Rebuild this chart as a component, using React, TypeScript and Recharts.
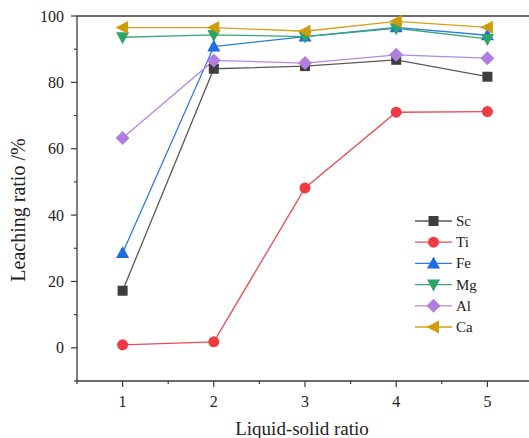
import { Line, LineChart, ReferenceLine, XAxis, YAxis } from 'recharts';

const ratios = [1, 2, 3, 4, 5];
const sc = [17.2, 84.1, 84.9, 86.8, 81.7];
const ti = [0.9, 1.8, 48.2, 71.0, 71.2];
const fe = [28.6, 90.8, 93.8, 96.6, 94.2];
const mg = [93.6, 94.3, 93.8, 96.3, 93.1];
const al = [63.2, 86.6, 85.8, 88.3, 87.3];
const ca = [96.5, 96.5, 95.4, 98.4, 96.6];

const xTicks = [0.5, 1, 1.5, 2, 2.5, 3, 3.5, 4, 4.5, 5];
const yTicks = [-10, 0, 10, 20, 30, 40, 50, 60, 70, 80, 90, 100];

const FONT = '"Liberation Serif", "DejaVu Serif", serif';
const AXIS = '#3a3a3a';

type Shape = 'square' | 'circle' | 'up' | 'down' | 'diamond' | 'left';

const series: { key: string; values: number[]; line: string; fill: string; shape: Shape }[] = [
  { key: 'Sc', values: sc, line: '#5a5a5a', fill: '#3e3e3e', shape: 'square' },
  { key: 'Ti', values: ti, line: '#f04a52', fill: '#f03a44', shape: 'circle' },
  { key: 'Fe', values: fe, line: '#2f7be6', fill: '#1f6de0', shape: 'up' },
  { key: 'Mg', values: mg, line: '#3aa873', fill: '#2ea46b', shape: 'down' },
  { key: 'Al', values: al, line: '#b588e4', fill: '#b07ee0', shape: 'diamond' },
  { key: 'Ca', values: ca, line: '#d3a216', fill: '#cf9c0a', shape: 'left' },
];

const data = ratios.map((x, i) => {
  const row: Record<string, number> = { x };
  series.forEach((s) => {
    row[s.key] = s.values[i];
  });
  return row;
});

function Marker({ cx, cy, shape, fill }: { cx: number; cy: number; shape: Shape; fill: string }) {
  if (cx == null || cy == null) return null;
  switch (shape) {
    case 'square':
      return <rect x={cx - 5} y={cy - 5} width={10} height={10} fill={fill} />;
    case 'circle':
      return <circle cx={cx} cy={cy} r={5.5} fill={fill} />;
    case 'up':
      return <polygon points={`${cx},${cy - 7} ${cx - 6.5},${cy + 5} ${cx + 6.5},${cy + 5}`} fill={fill} />;
    case 'down':
      return <polygon points={`${cx},${cy + 7} ${cx - 6.5},${cy - 5} ${cx + 6.5},${cy - 5}`} fill={fill} />;
    case 'diamond':
      return <polygon points={`${cx},${cy - 7} ${cx + 7},${cy} ${cx},${cy + 7} ${cx - 7},${cy}`} fill={fill} />;
    default:
      return <polygon points={`${cx - 7},${cy} ${cx + 5.5},${cy - 6.5} ${cx + 5.5},${cy + 6.5}`} fill={fill} />;
  }
}

function YTick({ x, y, payload }: any) {
  const major = payload.value % 20 === 0;
  return (
    <g>
      <line x1={x} x2={x - (major ? 6 : 3)} y1={y} y2={y} stroke={AXIS} strokeWidth={1.2} />
      {major && (
        <text x={x - 13} y={y} textAnchor="end" dominantBaseline="central" fontSize={16} fill="#222" style={{ fontFamily: FONT }}>
          {payload.value}
        </text>
      )}
    </g>
  );
}

function XTick({ x, y, payload }: any) {
  const major = Number.isInteger(payload.value);
  return (
    <g>
      <line x1={x} x2={x} y1={y} y2={y + (major ? 6 : 3)} stroke={AXIS} strokeWidth={1.2} />
      {major && (
        <text x={x} y={y + 20} textAnchor="middle" dominantBaseline="central" fontSize={16} fill="#222" style={{ fontFamily: FONT }}>
          {payload.value}
        </text>
      )}
    </g>
  );
}

function LegendBox() {
  return (
    <svg width={90} height={130} style={{ display: 'block' }}>
      {series.map((s, i) => {
        const y = 9 + i * 21.2;
        return (
          <g key={s.key}>
            <line x1={3} x2={40} y1={y} y2={y} stroke={s.line} strokeWidth={1.3} />
            <Marker cx={21.5} cy={y} shape={s.shape} fill={s.fill} />
            <text x={44} y={y} dominantBaseline="central" fontSize={15} fill="#222" style={{ fontFamily: FONT }}>
              {s.key}
            </text>
          </g>
        );
      })}
    </svg>
  );
}

export default function App() {
  return (
    <div style={{ position: 'absolute', left: 0, top: 0, width: 529, height: 438, background: '#fff' }}>
      <LineChart width={529} height={438} data={data} margin={{ top: 16, right: -4, left: 0, bottom: 0 }}>
        <XAxis
          dataKey="x"
          type="number"
          domain={[0.5, 5.5]}
          ticks={xTicks}
          interval={0}
          tickSize={0}
          tickMargin={0}
          tick={<XTick />}
          height={57}
          axisLine={{ stroke: AXIS, strokeWidth: 1.3 }}
          tickLine={false}
          label={{
            content: ({ viewBox }: any) => (
              <text
                x={viewBox.x + viewBox.width / 2 - 3}
                y={428}
                textAnchor="middle"
                dominantBaseline="central"
                fontSize={19}
                fill="#222"
                style={{ fontFamily: FONT }}
              >
                Liquid-solid ratio
              </text>
            ),
          }}
        />
        <YAxis
          type="number"
          domain={[-10, 100]}
          ticks={yTicks}
          interval={0}
          width={77}
          tickSize={0}
          tickMargin={0}
          tick={<YTick />}
          axisLine={{ stroke: AXIS, strokeWidth: 1.3 }}
          tickLine={false}
          label={{
            content: () => (
              <text
                x={18}
                y={210}
                transform="rotate(-90 18 210)"
                textAnchor="middle"
                dominantBaseline="central"
                fontSize={20}
                fill="#222"
                style={{ fontFamily: FONT }}
              >
                Leaching ratio /%
              </text>
            ),
          }}
        />
        <ReferenceLine y={100} stroke={AXIS} strokeWidth={1.3} />
        {series.map((s) => (
          <Line
            key={s.key}
            dataKey={s.key}
            stroke={s.line}
            strokeWidth={1.3}
            isAnimationActive={false}
            dot={(p: any) => <Marker key={`${s.key}-${p.index}`} cx={p.cx} cy={p.cy} shape={s.shape} fill={s.fill} />}
            activeDot={false}
          />
        ))}
      </LineChart>
      <div style={{ position: 'absolute', left: 412, top: 212 }}>
        <LegendBox />
      </div>
    </div>
  );
}
